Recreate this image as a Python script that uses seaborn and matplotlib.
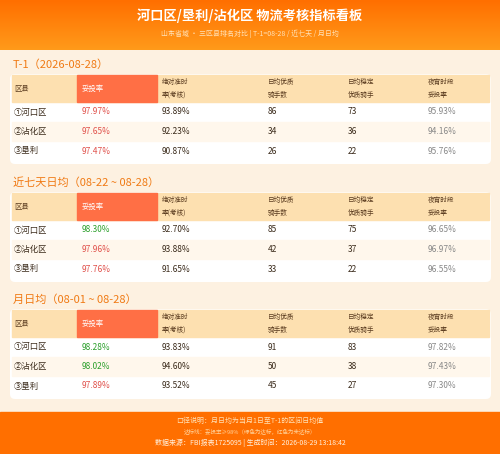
import matplotlib.pyplot as plt
import matplotlib.patches as patches
import numpy as np
import seaborn as sns

sns.set_theme(style="white")
plt.rcParams['font.family'] = ['Noto Sans CJK SC', 'DejaVu Sans']

# ── Data ──────────────────────────────────────────────────────────────────────
districts = ["①河口区", "②沾化区", "③垦利"]
sections = ["T-1（2026-08-28）", "近七天日均（08-22 ~ 08-28）", "月日均（08-01 ~ 08-28）"]
headers = [("区县", ""), ("妥投率", ""), ("绝对准时", "率(考核)"),
           ("日均优质", "骑手数"), ("日均稳定", "优质骑手"), ("夜宵时段", "妥投率")]
tuotou = [[97.97, 97.65, 97.47], [98.30, 97.96, 97.76], [98.28, 98.02, 97.89]]
ontime = [[93.89, 92.23, 90.87], [92.70, 93.88, 91.65], [93.83, 94.60, 93.52]]
good_riders = [[86, 34, 26], [85, 42, 33], [91, 50, 45]]
stable_riders = [[73, 36, 22], [75, 37, 22], [83, 38, 27]]
night_rate = [[95.93, 94.16, 95.76], [96.65, 96.97, 96.55], [97.82, 97.43, 97.30]]
target = 98.0

W, H = 500, 454
fig = plt.figure(figsize=(5, 4.54), dpi=100)
ax = fig.add_axes([0, 0, 1, 1])
ax.set_xlim(0, W)
ax.set_ylim(H, 0)
ax.axis("off")

# background
ax.add_patch(patches.Rectangle((0, 0), W, H, color="#fdf1e1", zorder=0))
# header gradient
grad = np.linspace(0, 1, 50).reshape(-1, 1)
ax.imshow(grad, extent=(0, W, 50, 0), aspect="auto", zorder=1,
          cmap=sns.blend_palette(["#ff6f00", "#ff9a1a"], as_cmap=True))
ax.text(W / 2, 16, "河口区/垦利/沾化区 物流考核指标看板", ha="center", va="center",
        fontsize=9.5, color="white", fontweight="bold", zorder=2)
ax.text(W / 2, 34, "山东省域 · 三区县排名对比 | T-1=08-28 / 近七天 / 月日均",
        ha="center", va="center", fontsize=5, color="#ffe2b8", zorder=2)

col_x = [14, 82, 162, 268, 348, 428]
section_top = [75, 193, 310]
for s in range(3):
    top = section_top[s]
    ax.text(13, top - 10, sections[s], ha="left", va="center", fontsize=8, color="#f07a14")
    ax.add_patch(patches.FancyBboxPatch((10, top - 1), 481, 90, boxstyle="round,pad=0,rounding_size=5",
                                        facecolor="white", edgecolor="none", zorder=1))
    ax.add_patch(patches.Rectangle((12, top), 477, 27, color="#fde0b0", zorder=2))
    ax.add_patch(patches.Rectangle((77, top), 80, 27, color="#ff6f45", zorder=3))
    for i, (h1, h2) in enumerate(headers):
        c = "white" if i == 1 else "#5a3b1f"
        if h2:
            ax.text(col_x[i], top + 7, h1, fontsize=4.8, color=c, va="center", zorder=4)
            ax.text(col_x[i], top + 20, h2, fontsize=4.8, color=c, va="center", zorder=4)
        else:
            ax.text(col_x[i], top + 14, h1, fontsize=5.3, color=c, va="center", zorder=4)
    for r in range(3):
        y = top + 37 + r * 19.5
        if r == 1:
            ax.add_patch(patches.Rectangle((12, y - 9.5), 477, 19, color="#fff7ec", zorder=2))
        v = tuotou[s][r]
        ax.text(col_x[0], y, districts[r], fontsize=6, color="#3a2a1a", va="center", zorder=4)
        ax.text(col_x[1], y, f"{v:.2f}%", fontsize=6, va="center", zorder=4,
                color="#2ca02c" if v >= target else "#e0504a")
        ax.text(col_x[2], y, f"{ontime[s][r]:.2f}%", fontsize=6, color="#3a2a1a", va="center", zorder=4)
        ax.text(col_x[3], y, f"{good_riders[s][r]}", fontsize=6, color="#3a2a1a", va="center", zorder=4)
        ax.text(col_x[4], y, f"{stable_riders[s][r]}", fontsize=6, color="#3a2a1a", va="center", zorder=4)
        ax.text(col_x[5], y, f"{night_rate[s][r]:.2f}%", fontsize=6, color="#888888", va="center", zorder=4)

# footer
ax.add_patch(patches.Rectangle((0, 412), W, 42, color="#ff6f00", zorder=1))
ax.text(W / 2, 421, "口径说明：月日均为当月1日至T-1的区间日均值", ha="center", va="center",
        fontsize=5, color="#ffe2b8", zorder=2)
ax.text(W / 2, 432, "达标线：妥投率≥98%（绿色为达标，红色为未达标）", ha="center", va="center",
        fontsize=4, color="#ffd29a", zorder=2)
ax.text(W / 2, 443, "数据来源：FBI报表1725095 | 生成时间：2026-08-29 13:18:42", ha="center", va="center",
        fontsize=5, color="#fff0dd", zorder=2)

fig.savefig("out.png", dpi=100)
